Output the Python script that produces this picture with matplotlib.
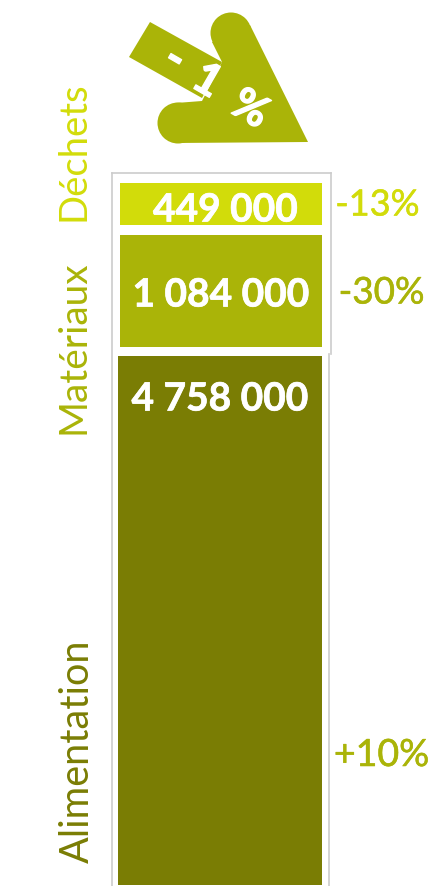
# -*- coding: utf-8 -*-
import matplotlib
matplotlib.use('Agg')
import matplotlib.pyplot as plt
import matplotlib.patheffects as pe
from matplotlib.patches import Polygon, Circle

plt.rcParams['font.family'] = ['Lato', 'DejaVu Sans']

categories = ['Déchets', 'Matériaux', 'Alimentation']
values = [449000, 1084000, 4758000]
value_labels = ['449 000', '1 084 000', '4 758 000']
changes = ['-13%', '-30%', '+10%']
total_change = ['-', '1', '%']

VERT = ['#d2dc0a', '#aab408', '#7a7d04']
W, H = 430, 886
GRIS = '#cccccc'

fig = plt.figure(figsize=(W / 100, H / 100), dpi=100, facecolor='white')

# calque en pixels pour le cadre, la fleche et les textes
bg = fig.add_axes([0, 0, 1, 1])
bg.set_xlim(0, W); bg.set_ylim(H, 0); bg.axis('off')

# cadre gris autour de la barre
bg.plot([112, 112], [886, 173], color=GRIS, lw=1.2)
bg.plot([112, 331], [173, 173], color=GRIS, lw=1.2)
bg.plot([331, 331], [173, 354], color=GRIS, lw=1.2)
bg.plot([329, 329], [354, 886], color=GRIS, lw=1.2)


def segment(val, color, x0, x1, y0, y1):
    """Un morceau de la barre : un axe par categorie, place en pixels."""
    ax = fig.add_axes([x0 / W, 1 - y1 / H, (x1 - x0) / W, (y1 - y0) / H])
    ax.bar(0, val, width=1, color=color)
    ax.set_xlim(-0.5, 0.5); ax.set_ylim(0, val)
    ax.axis('off')
    return ax


segment(values[0], VERT[0], 120, 322, 183, 225.5)
segment(values[1], VERT[1], 120, 322, 235, 347)
segment(values[2], VERT[2], 118, 322, 356, 885)

# valeurs
over = fig.add_axes([0, 0, 1, 1], facecolor='none')
over.set_xlim(0, W); over.set_ylim(H, 0); over.axis('off')
val_pos = [(225.5, 210), (221, 295), (220, 399)]
for lab, (x, y) in zip(value_labels, val_pos):
    over.text(x, y, lab, color='white', fontsize=28, fontweight='bold',
              ha='center', va='center',
              path_effects=[pe.withStroke(linewidth=0.5, foreground='white')])

# variations
chg_pos = [(377.5, 205), (381.5, 293), (381.5, 755)]
chg_col = [VERT[0], VERT[1], VERT[1]]
chg_size = [26, 26.5, 27]
for lab, (x, y), c, fs in zip(changes, chg_pos, chg_col, chg_size):
    over.text(x, y, lab, color=c, fontsize=fs, ha='center', va='center',
              path_effects=[pe.withStroke(linewidth=0.4, foreground=c)])

# categories
cat_pos = [(74, 151), (74, 347), (77, 751)]
cat_size = [27.5, 28, 28.5]
for lab, (x, y), c, fs in zip(categories, cat_pos, VERT, cat_size):
    over.text(x, y, lab, color=c, fontsize=fs, rotation=90,
              ha='center', va='center')

# fleche -1 %
FL = VERT[1]
over.add_patch(Polygon([(150, 22), (129, 57), (202, 98), (222, 62)], color=FL, lw=0))
over.add_patch(Polygon([(250, 25), (308, 142), (176, 143), (176, 103), (202, 101),
                        (222, 62), (212, 42)], color=FL, lw=0))
over.add_patch(Circle((231, 33), 20.5, color=FL, lw=0))
over.add_patch(Circle((178, 123), 20.5, color=FL, lw=0))
fl_pos = [(175, 59), (207, 81), (250, 109)]
fl_size = [34, 32, 31]
for lab, (x, y), fs in zip(total_change, fl_pos, fl_size):
    over.text(x, y, lab, color='white', fontsize=fs, fontweight='bold',
              rotation=-30, rotation_mode='anchor', ha='center', va='center',
              path_effects=[pe.withStroke(linewidth=1.0, foreground='white')])

fig.savefig('out.png', dpi=100)
